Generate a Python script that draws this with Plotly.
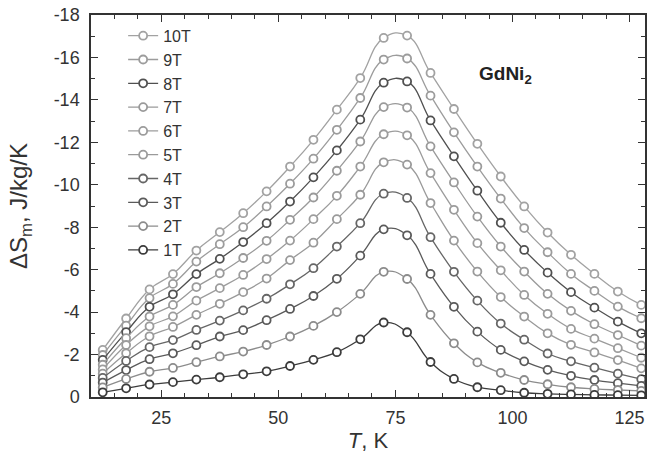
import plotly.graph_objects as go

T = [12.5, 17.5, 22.5, 27.5, 32.5, 37.5, 42.5, 47.5, 52.5, 57.5, 62.5, 67.5,
     72.5, 77.5, 82.5, 87.5, 92.5, 97.5, 102.5, 107.5, 112.5, 117.5, 122.5, 127.5]

s1T = [-0.22, -0.41, -0.59, -0.70, -0.82, -0.93, -1.07, -1.21, -1.46, -1.75, -2.11, -2.72,
       -3.51, -3.05, -1.65, -0.85, -0.46, -0.32, -0.20, -0.15, -0.12, -0.10, -0.09, -0.08]
s2T = [-0.45, -0.85, -1.19, -1.37, -1.64, -1.91, -2.14, -2.45, -2.85, -3.35, -4.00, -4.86,
       -5.90, -5.56, -3.87, -2.53, -1.63, -1.14, -0.80, -0.60, -0.46, -0.38, -0.33, -0.29]
s3T = [-0.68, -1.27, -1.78, -2.06, -2.44, -2.85, -3.15, -3.62, -4.15, -4.76, -5.57, -6.66,
       -7.90, -7.62, -5.80, -4.25, -3.08, -2.22, -1.68, -1.28, -1.00, -0.80, -0.65, -0.52]
s4T = [-0.90, -1.70, -2.35, -2.68, -3.16, -3.60, -4.08, -4.63, -5.31, -6.07, -7.09, -8.19,
       -9.58, -9.38, -7.53, -5.90, -4.54, -3.46, -2.70, -2.05, -1.68, -1.38, -1.10, -0.84]
s5T = [-1.10, -2.06, -2.86, -3.30, -3.87, -4.39, -4.94, -5.58, -6.45, -7.27, -8.38, -9.53,
       -11.06, -10.95, -9.14, -7.37, -5.91, -4.71, -3.79, -3.00, -2.46, -2.10, -1.74, -1.35]
s6T = [-1.30, -2.45, -3.33, -3.80, -4.54, -5.13, -5.75, -6.50, -7.37, -8.38, -9.48, -10.86,
       -12.38, -12.33, -10.55, -8.82, -7.25, -5.97, -4.81, -3.92, -3.21, -2.75, -2.30, -1.85]
s7T = [-1.52, -2.77, -3.79, -4.34, -5.18, -5.83, -6.55, -7.36, -8.35, -9.40, -10.66, -12.04,
       -13.66, -13.64, -11.81, -10.11, -8.50, -7.09, -5.91, -4.86, -4.06, -3.43, -2.92, -2.42]
s8T = [-1.75, -3.06, -4.25, -4.84, -5.79, -6.51, -7.30, -8.19, -9.21, -10.35, -11.62, -13.07,
       -14.81, -14.87, -13.03, -11.34, -9.72, -8.21, -6.93, -5.86, -4.94, -4.21, -3.55, -3.00]
s9T = [-1.98, -3.36, -4.66, -5.33, -6.38, -7.20, -8.00, -8.98, -10.05, -11.23, -12.59, -14.09,
       -15.90, -15.95, -14.20, -12.47, -10.86, -9.35, -7.96, -6.82, -5.80, -5.00, -4.26, -3.71]
s10T = [-2.22, -3.70, -5.07, -5.79, -6.90, -7.77, -8.66, -9.69, -10.86, -12.12, -13.54, -15.03,
        -16.92, -17.03, -15.27, -13.57, -11.93, -10.39, -8.98, -7.75, -6.70, -5.80, -4.97, -4.34]

series_names = ["10T", "9T", "8T", "7T", "6T", "5T", "4T", "3T", "2T", "1T"]
series_values = [s10T, s9T, s8T, s7T, s6T, s5T, s4T, s3T, s2T, s1T]
series_colors = ["#a2a2a2", "#9c9c9c", "#505050", "#9a9a9a", "#9c9c9c",
                 "#9a9a9a", "#666666", "#5a5a5a", "#8c8c8c", "#3c3c3c"]

x_tickvals = [25, 50, 75, 100, 125]
y_tickvals = [0, -2, -4, -6, -8, -10, -12, -14, -16, -18]
y_ticktext = ["0", "-2", "-4", "-6", "-8", "-10", "-12", "-14", "-16", "-18"]

FONT = "Liberation Sans, Arial, sans-serif"
AX = "#333333"

fig = go.Figure()
for name, vals, col in zip(series_names, series_values, series_colors):
    fig.add_trace(go.Scatter(
        x=T, y=vals, name=name, mode="lines+markers",
        line=dict(color=col, width=1.3, shape="spline", smoothing=1.3),
        marker=dict(symbol="circle", size=8, color="white",
                    line=dict(color=col, width=1.8)),
    ))

fig.update_layout(
    width=651, height=458,
    margin=dict(l=91, r=4, t=15, b=61),
    paper_bgcolor="white", plot_bgcolor="white",
    font=dict(family=FONT, size=17, color=AX),
    showlegend=True,
    legend=dict(x=0.058, y=0.99, xanchor="left", yanchor="top",
                bgcolor="rgba(0,0,0,0)", font=dict(size=16, color=AX),
                tracegroupgap=0),
    annotations=[dict(text="<b>GdNi<sub>2</sub></b>", x=0.748, y=0.843,
                      xanchor="center", yanchor="middle",
                      xref="paper", yref="paper", showarrow=False,
                      font=dict(size=19, color="#222222", family=FONT))],
)

fig.update_xaxes(
    range=[10, 128.3], tickvals=x_tickvals,
    showline=True, linecolor=AX, linewidth=1.5, mirror="ticks",
    ticks="inside", ticklen=7, tickwidth=1.3, tickcolor=AX,
    minor=dict(dtick=5, ticks="inside", ticklen=4, tickwidth=1.1, tickcolor=AX),
    showgrid=False, zeroline=False,
    tickfont=dict(size=18, color=AX), ticklabelstandoff=4,
    title=dict(text="<i>T</i>, K", font=dict(size=22, color=AX), standoff=2),
)
fig.update_yaxes(
    range=[0, -18], tickvals=y_tickvals, ticktext=y_ticktext,
    showline=True, linecolor=AX, linewidth=1.5, mirror="ticks",
    ticks="inside", ticklen=7, tickwidth=1.3, tickcolor=AX,
    minor=dict(dtick=1, ticks="inside", ticklen=4, tickwidth=1.1, tickcolor=AX),
    showgrid=False, zeroline=False,
    tickfont=dict(size=18, color=AX), ticklabelstandoff=6,
    title=dict(text="ΔS<sub>m</sub>, J/kg/K", font=dict(size=24, color=AX), standoff=19),
)

fig.write_html("out.html")
